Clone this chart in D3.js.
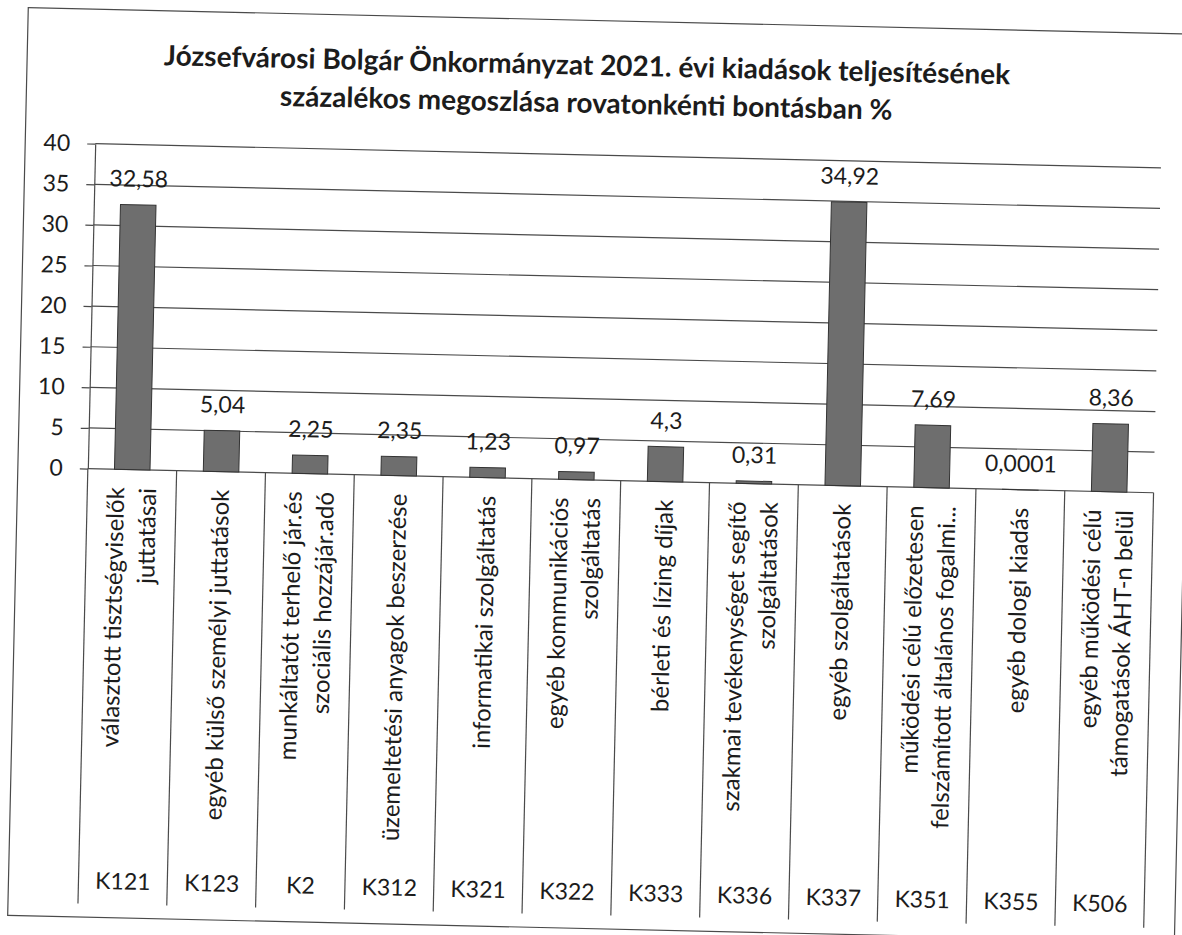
<!DOCTYPE html>
<html>
<head>
<meta charset="utf-8">
<script src="https://cdn.jsdelivr.net/npm/d3@7"></script>
<style>
  body { margin: 0; background: #fff; }
  svg { display: block; }
  text { font-family: Lato, "Noto Sans", sans-serif; fill: #1c1c1c; }
</style>
</head>
<body>
<div id="chart"></div>
<script>
// Data
const codes = ["K121", "K123", "K2", "K312", "K321", "K322", "K333", "K336", "K337", "K351", "K355", "K506"];
const names = [
    ["választott tisztségviselők", "juttatásai"],
    ["egyéb külső személyi juttatások"],
    ["munkáltatót terhelő jár.és", "szociális hozzájár.adó"],
    ["üzemeltetési anyagok beszerzése"],
    ["informatikai szolgáltatás"],
    ["egyéb kommunikációs", "szolgáltatás"],
    ["bérleti és lízing díjak"],
    ["szakmai tevékenységet segítő", "szolgáltatások"],
    ["egyéb szolgáltatások"],
    ["működési célú előzetesen", "felszámított általános fogalmi..."],
    ["egyéb dologi kiadás"],
    ["egyéb működési célú", "támogatások ÁHT-n belül"]
];
const values = [32.58, 5.04, 2.25, 2.35, 1.23, 0.97, 4.3, 0.31, 34.92, 7.69, 0.0001, 8.36];
const yTicks = [0, 5, 10, 15, 20, 25, 30, 35, 40];
const titleLines = [
    "Józsefvárosi Bolgár Önkormányzat 2021. évi kiadások teljesítésének",
    "százalékos megoszlása rovatonkénti bontásban %"
];

const W = 1182, H = 935;
const plot = { left: 88, right: 1154, top: 155, bottom: 480 };
const catBottom = 915;
const lineColor = "#4a4a4a";

const svg = d3.select("#chart").append("svg")
    .attr("width", W)
    .attr("height", H);

// the scanned page is slightly tilted
const g = svg.append("g")
    .attr("transform", "rotate(1.3, 591, 467)");

// Chart border
g.append("rect")
    .attr("x", 18).attr("y", 20.5)
    .attr("width", 1167).attr("height", 908)
    .attr("fill", "none")
    .attr("stroke", lineColor)
    .attr("stroke-width", 1.2);

// Title
g.append("text")
    .attr("text-anchor", "middle")
    .style("font-weight", "bold")
    .style("font-size", "28px")
    .selectAll("tspan")
    .data(titleLines)
    .enter()
    .append("tspan")
    .attr("x", 578)
    .attr("y", (d, i) => 75 + i * 38)
    .text(d => d);

// Scales
const x = d3.scaleBand()
    .domain(codes)
    .range([plot.left, plot.right])
    .paddingInner(0.6)
    .paddingOuter(0.3);

const y = d3.scaleLinear()
    .domain([0, 40])
    .range([plot.bottom, plot.top]);

// Gridlines
g.append("g")
    .selectAll("line")
    .data(yTicks)
    .enter()
    .append("line")
    .attr("x1", plot.left)
    .attr("x2", plot.right)
    .attr("y1", d => y(d))
    .attr("y2", d => y(d))
    .attr("stroke", lineColor)
    .attr("stroke-width", 1.2);

// Y axis
const yAxis = g.append("g")
    .attr("transform", `translate(${plot.left},0)`)
    .call(d3.axisLeft(y).tickValues(yTicks).tickSizeInner(8).tickSizeOuter(0).tickPadding(17));
yAxis.select(".domain").attr("stroke", lineColor).attr("stroke-width", 1.2);
yAxis.selectAll(".tick line").attr("stroke", lineColor).attr("stroke-width", 1.2);
yAxis.selectAll(".tick text")
    .style("font-size", "23px")
    .style("font-family", "Lato, sans-serif")
    .attr("fill", "#1c1c1c");

// Category separators at band edges
const edges = codes.map(c => x(c) - (x.step() - x.bandwidth()) / 2);
edges.push(plot.right);
g.append("g")
    .selectAll("line")
    .data(edges)
    .enter()
    .append("line")
    .attr("x1", d => d)
    .attr("x2", d => d)
    .attr("y1", plot.bottom)
    .attr("y2", catBottom)
    .attr("stroke", lineColor)
    .attr("stroke-width", 1.2);

// Bars
g.append("g")
    .selectAll("rect")
    .data(values)
    .enter()
    .append("rect")
    .attr("x", (d, i) => x(codes[i]))
    .attr("y", d => y(d))
    .attr("width", x.bandwidth())
    .attr("height", d => y(0) - y(d))
    .attr("fill", "#6e6e6e")
    .attr("stroke", "#333")
    .attr("stroke-width", 1);

// Data labels
g.append("g")
    .selectAll("text")
    .data(values)
    .enter()
    .append("text")
    .attr("x", (d, i) => x(codes[i]) + x.bandwidth() / 2)
    .attr("y", d => y(d) - 18)
    .attr("text-anchor", "middle")
    .style("font-size", "23px")
    .text(d => String(d).replace(".", ","));

// Category names (rotated) and codes
const cat = g.append("g")
    .selectAll("g")
    .data(codes)
    .enter()
    .append("g")
    .attr("transform", d => `translate(${x(d) + x.bandwidth() / 2},0)`);

cat.append("text")
    .attr("transform", "rotate(-90)")
    .attr("text-anchor", "end")
    .style("font-size", "24px")
    .selectAll("tspan")
    .data((d, i) => names[i].map((t, j) => ({ t, off: (j - (names[i].length - 1) / 2) * 32 })))
    .enter()
    .append("tspan")
    .attr("x", -498)
    .attr("y", d => d.off)
    .attr("dy", "0.35em")
    .text(d => d.t);

cat.append("text")
    .attr("y", 900)
    .attr("text-anchor", "middle")
    .style("font-size", "23px")
    .text(d => d);
</script>
</body>
</html>
